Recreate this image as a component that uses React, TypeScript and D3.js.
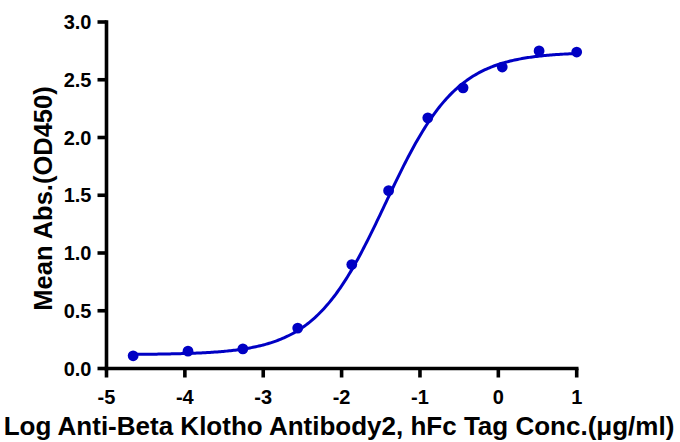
import React from "react";
import * as d3 from "d3";

const logConc = [-4.66, -3.96, -3.26, -2.56, -1.87, -1.4, -0.9, -0.45, 0.05, 0.52, 1.0];
const meanAbs = [0.11, 0.15, 0.17, 0.35, 0.9, 1.54, 2.17, 2.43, 2.61, 2.75, 2.74];
const xTicks = [-5, -4, -3, -2, -1, 0, 1];
const yTicks = [0, 0.5, 1, 1.5, 2, 2.5, 3];

// four-parameter logistic fit
const fitBottom = 0.12;
const fitTop = 2.74;
const fitLogEC50 = -1.44;
const fitHill = 0.95;

const W = 680;
const H = 442;
const BLUE = "#0000C4";
const FONT = "'Liberation Sans', Arial, sans-serif";

export default function App() {
  const x = d3.scaleLinear().domain([-5, 1]).range([106.5, 576.7]);
  const y = d3.scaleLinear().domain([0, 3]).range([368.5, 22]);

  const fit = (v: number) =>
    fitBottom + (fitTop - fitBottom) / (1 + Math.pow(10, (fitLogEC50 - v) * fitHill));

  const x0 = logConc[0];
  const x1 = logConc[logConc.length - 1];
  const curvePts: [number, number][] = d3
    .range(0, 301)
    .map((i) => {
      const v = x0 + ((x1 - x0) * i) / 300;
      return [v, fit(v)] as [number, number];
    });
  const line = d3
    .line<[number, number]>()
    .x((d) => x(d[0]))
    .y((d) => y(d[1]));

  const tickLen = 9;
  const axisW = 3.6;

  return (
    <svg
      width={W}
      height={H}
      style={{ position: "absolute", left: 0, top: 0, background: "#fff" }}
      fontFamily={FONT}
    >
      <rect width={W} height={H} fill="#fff" />
      <path d={line(curvePts) || ""} fill="none" stroke={BLUE} strokeWidth={3} />
      {logConc.map((v, i) => (
        <circle key={i} cx={x(v)} cy={y(meanAbs[i])} r={5.4} fill={BLUE} />
      ))}
      <line x1={x(-5)} x2={x(-5)} y1={y(3) - 1.8} y2={y(0) + 1.8} stroke="#000" strokeWidth={axisW} />
      {yTicks.map((t) => (
        <g key={t}>
          <line x1={x(-5) - tickLen} x2={x(-5)} y1={y(t)} y2={y(t)} stroke="#000" strokeWidth={axisW} />
          <text
            x={x(-5) - 15}
            y={y(t)}
            dy="0.35em"
            textAnchor="end"
            fontSize={20}
            fontWeight="bold"
            fill="#000"
          >
            {t.toFixed(1)}
          </text>
        </g>
      ))}
      <line x1={x(-5) - 1.8} x2={x(1) + 1.8} y1={y(0)} y2={y(0)} stroke="#000" strokeWidth={axisW} />
      {xTicks.map((t) => (
        <g key={t}>
          <line x1={x(t)} x2={x(t)} y1={y(0)} y2={y(0) + tickLen} stroke="#000" strokeWidth={axisW} />
          <text
            x={x(t)}
            y={404}
            textAnchor="middle"
            fontSize={20}
            fontWeight="bold"
            fill="#000"
          >
            {t}
          </text>
        </g>
      ))}
      <text
        x={339}
        y={435}
        textAnchor="middle"
        fontSize={26}
        fontWeight="bold"
        fill="#000"
      >
        Log Anti-Beta Klotho Antibody2, hFc Tag Conc.(μg/ml)
      </text>
      <text
        transform="translate(52,198.5) rotate(-90)"
        textAnchor="middle"
        fontSize={25.5}
        fontWeight="bold"
        fill="#000"
      >
        Mean Abs.(OD450)
      </text>
    </svg>
  );
}
